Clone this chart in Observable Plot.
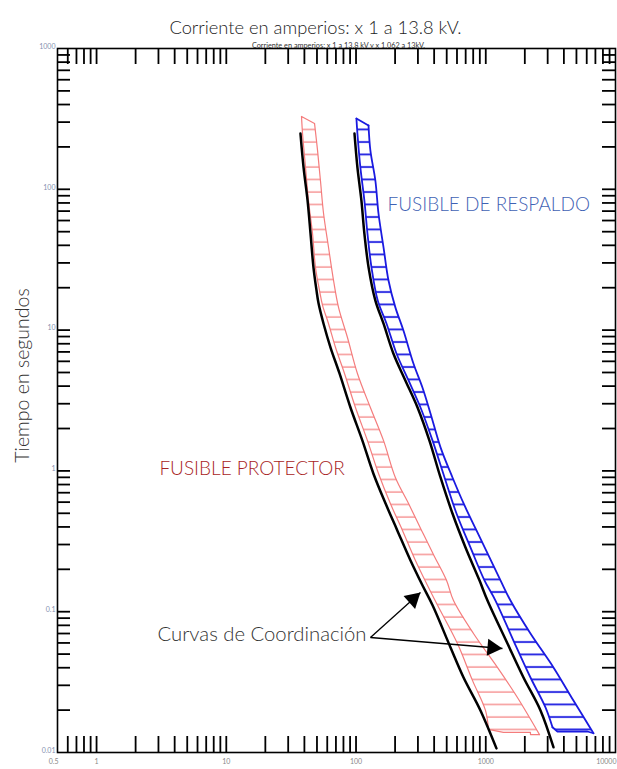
<!DOCTYPE html>
<html><head><meta charset="utf-8">
<script src="https://cdn.jsdelivr.net/npm/d3@7"></script>
<script src="https://cdn.jsdelivr.net/npm/@observablehq/plot@0.6"></script>
<style>html,body{margin:0;padding:0;background:#fff;overflow:hidden}</style>
</head><body><div id="chart"></div>
<script>
// ---- Data (current in A, time in s) ----
const black1 = [[37.3,249],[39.4,143],[42.3,83.3],[44.6,48.5],[47.0,27.8],[49.6,19.1],[51.4,15.5],[56.2,11.1],[63.6,7.52],[74.6,4.92],[90.6,2.82],[112,1.64],[136,0.959],[169,0.586],[208,0.378],[263,0.231],[325,0.154],[389,0.111],[535,0.0557],[674,0.0341],[910,0.0199],[1209,0.0107]];
const black2 = [[97.3,249],[102.5,143],[110,83.3],[116,48.5],[125,27.8],[141,16.2],[163,11.1],[194,6.82],[240,4.39],[298,2.82],[368,1.64],[448,0.898],[554,0.498],[698,0.286],[894,0.167],[1031,0.120],[1470,0.0594],[1953,0.0341],[2642,0.0199],[3325,0.0109]];
const redLeft = [[38.0,329],[38.7,249],[40.8,143],[43.0,83.3],[46.2,48.5],[48.7,27.8],[52.3,19.1],[55.2,15.0],[61.4,11.1],[69.5,7.52],[81.5,4.92],[99.0,2.82],[122.5,1.64],[149,0.959],[184,0.586],[228,0.378],[287,0.231],[355,0.154],[425,0.111],[605,0.0594],[791,0.0324],[995,0.0199],[1049,0.0146]];
const redBottom = [[1368,0.0139],[2211,0.0139],[2211,0.0134]];
const redRight = [[47.9,293],[50.5,189],[53.2,115],[56.2,67.3],[61.4,38.6],[67.1,22.5],[73.3,14.5],[85.9,8.86],[102.5,4.92],[129,2.82],[163,1.64],[201,0.898],[254,0.586],[320,0.378],[402,0.247],[498,0.167],[564,0.120],[804,0.070],[1230,0.0402],[1754,0.0246],[2596,0.0134]];
const blueLeft = [[100.7,318],[102.5,249],[108,143],[116,83.3],[122.5,48.5],[131.6,27.8],[147,16.2],[172,11.1],[205,6.82],[254,4.39],[314,2.82],[389,1.64],[481,0.898],[595,0.498],[762,0.286],[977,0.167],[1188,0.120],[1634,0.0624],[2211,0.0341],[2886,0.0209],[3268,0.0151]];
const blueBottom = [[3567,0.0141],[6078,0.0141]];
const blueRight = [[124.8,284],[129,189],[141,115],[149,67.3],[163,38.6],[178,22.5],[201,14.5],[232,9.93],[277,5.79],[325,3.91],[375,2.56],[448,1.47],[554,0.898],[686,0.568],[848,0.378],[1050,0.251],[1299,0.167],[1550,0.120],[2211,0.070],[3325,0.0402],[4740,0.0234],[6762,0.0137]];

// arrows: start and tip; arrowhead centers with rotation
const arrowLinks = [[129.2,0.0656,314,0.1368],[129.2,0.0656,1345,0.0548]];
const arrowHeads = [[275,0.1227,48],[1126,0.0555,95]];

// ticks and labels
const xTicks = [0.6,0.7,0.8,0.9,1,2,3,4,5,6,7,8,9,10,20,30,40,50,60,70,80,90,100,200,300,400,500,600,700,800,900,1000,2000,3000,4000,5000,6000,7000,8000,9000];
const yTicks = [0.02,0.03,0.04,0.05,0.06,0.07,0.08,0.09,0.1,0.2,0.3,0.4,0.5,0.6,0.7,0.8,0.9,1,2,3,4,5,6,7,8,9,10,20,30,40,50,60,70,80,90,100,200,300,400,500,600,700,800,900];
const xLabels = [1,10,100,1000];
const yLabels = [0.01,0.1,1,10,100,1000];

const title = "Corriente en amperios: x 1 a 13.8 kV.";
const subtitle = "Corriente en amperios: x 1 a 13.8 kV y x 1.062 a 13kV.";
const yTitle = "Tiempo en segundos";
const notes = [
  {x: 175, y: 78, text: "FUSIBLE DE RESPALDO", color: "#3f62b4", size: 19},
  {x: 3.05, y: 1.04, text: "FUSIBLE PROTECTOR", color: "#a82424", size: 19},
  {x: 2.95, y: 0.0689, text: "Curvas de Coordinación", color: "#333333", size: 20.3}
];

const pts = a => a.map(([x, y]) => ({x, y}));
const redPoly = pts([...redLeft, ...redBottom, ...[...redRight].reverse(), redLeft[0]]);
const bluePoly = pts([...blueLeft, ...blueBottom, ...[...blueRight].reverse(), blueLeft[0]]);
const redEnds = [pts([redLeft[0], redRight[0]]), pts([redLeft[redLeft.length - 1], ...redBottom, redRight[redRight.length - 1]])];
const blueEnds = [pts([blueLeft[0], blueRight[0]]), pts([blueLeft[blueLeft.length - 1], ...blueBottom, blueRight[blueRight.length - 1]])];

const RED = "#f47c7c", BLUE = "#1a1ae0";
const NS = "http://www.w3.org/2000/svg";
function hatchDefs() {
  const defs = document.createElementNS(NS, "defs");
  for (const [id, color, w] of [["hatchRed", RED, 1.2], ["hatchBlue", BLUE, 1.8]]) {
    const p = document.createElementNS(NS, "pattern");
    p.setAttribute("id", id);
    p.setAttribute("patternUnits", "userSpaceOnUse");
    p.setAttribute("width", 10);
    p.setAttribute("height", 12.5);
    const l = document.createElementNS(NS, "line");
    l.setAttribute("x1", 0); l.setAttribute("x2", 10);
    l.setAttribute("y1", 4); l.setAttribute("y2", 4);
    l.setAttribute("stroke", color); l.setAttribute("stroke-width", w);
    p.appendChild(l);
    defs.appendChild(p);
  }
  return defs;
}

const W = 617, H = 769, mL = 57, mR = 2, mT = 48, mB = 17;
const iW = W - mL - mR, iH = H - mT - mB;
const smooth = "catmull-rom";

const chart = Plot.plot({
  width: W, height: H,
  marginLeft: mL, marginRight: mR, marginTop: mT, marginBottom: mB,
  style: {fontFamily: "Lato, 'Open Sans', sans-serif", background: "white", overflow: "visible"},
  x: {type: "log", domain: [0.5, 10000], axis: null},
  y: {type: "log", domain: [0.01, 1000], axis: null},
  marks: [
    hatchDefs,
    // band fills (hatched)
    Plot.line(redPoly, {x: "x", y: "y", stroke: "none", fill: "url(#hatchRed)"}),
    Plot.line(bluePoly, {x: "x", y: "y", stroke: "none", fill: "url(#hatchBlue)"}),
    // band outlines
    Plot.line(pts(redLeft), {x: "x", y: "y", stroke: RED, strokeWidth: 1.2, curve: smooth}),
    Plot.line(pts(redRight), {x: "x", y: "y", stroke: RED, strokeWidth: 1.2, curve: smooth}),
    ...redEnds.map(e => Plot.line(e, {x: "x", y: "y", stroke: RED, strokeWidth: 1.2})),
    Plot.line(pts(blueLeft), {x: "x", y: "y", stroke: BLUE, strokeWidth: 1.8, curve: smooth}),
    Plot.line(pts(blueRight), {x: "x", y: "y", stroke: BLUE, strokeWidth: 1.8, curve: smooth}),
    ...blueEnds.map(e => Plot.line(e, {x: "x", y: "y", stroke: BLUE, strokeWidth: 1.8})),
    // black curves
    Plot.line(pts(black1), {x: "x", y: "y", stroke: "black", strokeWidth: 2.5, curve: smooth}),
    Plot.line(pts(black2), {x: "x", y: "y", stroke: "black", strokeWidth: 2.5, curve: smooth}),
    // ticks
    Plot.tickX(xTicks, {x: d => d, insetTop: iH - 16, stroke: "black", strokeWidth: 1.8}),
    Plot.tickX(xTicks, {x: d => d, insetBottom: iH - 16, stroke: "black", strokeWidth: 1.8}),
    Plot.tickY(yTicks, {y: d => d, insetRight: iW - 13, stroke: "black", strokeWidth: 1.8}),
    Plot.tickY(yTicks, {y: d => d, insetLeft: iW - 13, stroke: "black", strokeWidth: 1.8}),
    Plot.frame({stroke: "black", strokeWidth: 1.6}),
    // tick labels
    Plot.text(xLabels, {x: d => d, text: d => String(d), frameAnchor: "bottom", dy: 11, fontSize: 7, fill: "#888"}),
    Plot.text(["0.5"], {x: () => 0.5, text: d => d, frameAnchor: "bottom", dy: 11, textAnchor: "end", dx: 1, fontSize: 7, fill: "#888"}),
    Plot.text(["10000"], {x: () => 10000, text: d => d, frameAnchor: "bottom", dy: 11, textAnchor: "end", dx: 1, fontSize: 7, fill: "#888"}),
    Plot.text(yLabels, {y: d => d, text: d => String(d), frameAnchor: "left", textAnchor: "end", dx: -2, dy: -2, fontSize: 7, fill: "#8590b0"}),
    // titles
    Plot.text([title], {text: d => d, frameAnchor: "top", textAnchor: "middle", dx: -21, dy: -28, fontSize: 18.3, fill: "#222", fontWeight: 300}),
    Plot.text([subtitle], {text: d => d, frameAnchor: "top", textAnchor: "middle", dx: 2, dy: -6, fontSize: 7.3, fill: "#333"}),
    Plot.text([yTitle], {text: d => d, frameAnchor: "left", textAnchor: "middle", rotate: -90, dx: -35, dy: -25, fontSize: 19.5, fill: "#333", fontWeight: 300}),
    // annotations
    Plot.text(notes, {x: "x", y: "y", text: "text", fill: "color", fontSize: "size", textAnchor: "start", fontWeight: 300}),
    Plot.link(arrowLinks, {x1: d => d[0], y1: d => d[1], x2: d => d[2], y2: d => d[3], stroke: "black", strokeWidth: 1.3}),
    Plot.dot(arrowHeads, {x: d => d[0], y: d => d[1], rotate: d => d[2], symbol: "triangle", r: 6.4, fill: "black", stroke: "none"})
  ]
});
document.getElementById("chart").appendChild(chart);
</script>
</body></html>
